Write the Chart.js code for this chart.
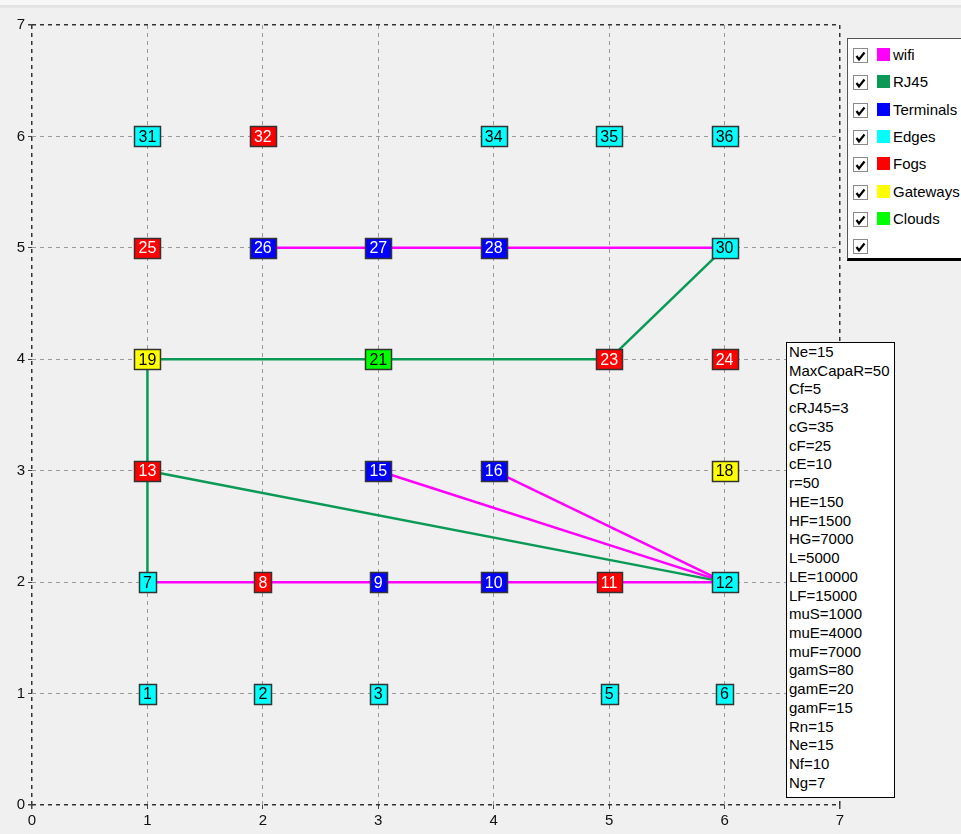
<!DOCTYPE html>
<html lang="en">
<head>
    <meta charset="UTF-8">
    <title>Network topology</title>
    <script src="https://cdn.jsdelivr.net/npm/chart.js"></script>
    <style>
        html, body { margin: 0; padding: 0; background: #f0f0f0; overflow: hidden; }
        #wrap { position: relative; width: 961px; height: 834px; }
        #topband { position: absolute; left: 0; top: 0; width: 961px; height: 5px; background: #f7f7f7; border-bottom: 3px solid #e4e4e4; }
        canvas { position: absolute; left: 0; top: 0; }
        #legend {
            position: absolute; left: 847px; top: 38px; width: 130px; height: 219px;
            background: #fff; border: 1px solid #555; border-bottom: 3px solid #000;
            font: 15px "Liberation Sans", Arial, sans-serif; color: #000;
        }
        .row { position: absolute; left: 0; height: 20px; }
        .chk { position: absolute; left: 5px; top: 3px; width: 13px; height: 13px; border: 1px solid #8a8a8a; background: #fff; }
        .sw { position: absolute; left: 29px; top: 3px; width: 13px; height: 13px; }
        .lbl { position: absolute; left: 45px; top: 1px; white-space: nowrap; }
        #params {
            position: absolute; left: 786px; top: 342px; width: 105px; height: 454px;
            background: #fff; border: 1px solid #000;
            font: 15px "Liberation Sans", Arial, sans-serif; line-height: 18.74px; color: #000;
            padding-left: 2px; white-space: nowrap; overflow: hidden;
        }
    </style>
</head>
<body>
<div id="wrap">
    <div id="topband"></div>
    <canvas id="net" width="961" height="834"></canvas>
    <div id="legend"></div>
    <div id="params"></div>
</div>
<script>
    // nodes (label, grid position, kind)
    const nodeLabels = ['1', '2', '3', '5', '6',
        '7', '8', '9', '10', '11', '12',
        '13', '15', '16', '18',
        '19', '21', '23', '24',
        '25', '26', '27', '28', '30',
        '31', '32', '34', '35', '36'];
    const nodeX = [1, 2, 3, 5, 6,
        1, 2, 3, 4, 5, 6,
        1, 3, 4, 6,
        1, 3, 5, 6,
        1, 2, 3, 4, 6,
        1, 2, 4, 5, 6];
    const nodeY = [1, 1, 1, 1, 1,
        2, 2, 2, 2, 2, 2,
        3, 3, 3, 3,
        4, 4, 4, 4,
        5, 5, 5, 5, 5,
        6, 6, 6, 6, 6];
    const nodeKind = ['Edges', 'Edges', 'Edges', 'Edges', 'Edges',
        'Edges', 'Fogs', 'Terminals', 'Terminals', 'Fogs', 'Edges',
        'Fogs', 'Terminals', 'Terminals', 'Gateways',
        'Gateways', 'Clouds', 'Fogs', 'Fogs',
        'Fogs', 'Terminals', 'Terminals', 'Terminals', 'Edges',
        'Edges', 'Fogs', 'Edges', 'Edges', 'Edges'];

    // links between nodes
    const wifiLinks = [['26', '27'], ['27', '28'], ['28', '30'],
        ['7', '8'], ['8', '9'], ['9', '10'], ['10', '11'], ['11', '12'],
        ['15', '12'], ['16', '12']];
    const rj45Links = [['19', '21'], ['21', '23'], ['23', '30'],
        ['19', '13'], ['13', '7'], ['13', '12']];

    const kinds = ['Terminals', 'Edges', 'Fogs', 'Gateways', 'Clouds'];
    const kindColors = ['#0000ff', '#00ffff', '#ff0000', '#ffff00', '#00ff00'];
    const kindText = ['#fff', '#000', '#fff', '#000', '#000'];
    const wifiColor = '#ff00ff';
    const rj45Color = '#0a9a55';

    const legendNames = ['wifi', 'RJ45', 'Terminals', 'Edges', 'Fogs', 'Gateways', 'Clouds', ''];
    const legendColors = [wifiColor, rj45Color].concat(kindColors, [null]);

    const params = ['Ne=15', 'MaxCapaR=50', 'Cf=5', 'cRJ45=3', 'cG=35', 'cF=25', 'cE=10', 'r=50',
        'HE=150', 'HF=1500', 'HG=7000', 'L=5000', 'LE=10000', 'LF=15000',
        'muS=1000', 'muE=4000', 'muF=7000', 'gamS=80', 'gamE=20', 'gamF=15',
        'Rn=15', 'Ne=15', 'Nf=10', 'Ng=7'];

    const xTicks = [0, 1, 2, 3, 4, 5, 6, 7];
    const yTicks = [0, 1, 2, 3, 4, 5, 6, 7];

    function pos(label) {
        const i = nodeLabels.indexOf(label);
        return {x: nodeX[i], y: nodeY[i]};
    }

    const datasets = [];
    rj45Links.forEach(l => datasets.push({
        data: [pos(l[0]), pos(l[1])], showLine: true, borderColor: rj45Color,
        borderWidth: 2.5, pointRadius: 0
    }));
    wifiLinks.forEach(l => datasets.push({
        data: [pos(l[0]), pos(l[1])], showLine: true, borderColor: wifiColor,
        borderWidth: 2.5, pointRadius: 0
    }));
    kinds.forEach((k, ki) => {
        const idx = nodeLabels.map((_, i) => i).filter(i => nodeKind[i] === k);
        datasets.push({
            data: idx.map(i => ({x: nodeX[i], y: nodeY[i]})),
            nodeLabels: idx.map(i => nodeLabels[i]),
            boxColor: kindColors[ki], textColor: kindText[ki],
            pointRadius: 0, showLine: false
        });
    });

    // draws the labelled squares on top of the links
    const nodeBoxes = {
        id: 'nodeBoxes',
        afterDatasetsDraw(chart) {
            const ctx = chart.ctx;
            ctx.save();
            ctx.font = '16px "Liberation Sans", Arial, sans-serif';
            ctx.textAlign = 'center';
            ctx.textBaseline = 'middle';
            chart.data.datasets.forEach((ds, i) => {
                if (!ds.nodeLabels) return;
                chart.getDatasetMeta(i).data.forEach((pt, j) => {
                    const t = ds.nodeLabels[j];
                    const w = Math.round(ctx.measureText(t).width) + 8;
                    const h = 20;
                    const x = Math.round(pt.x - w / 2) + 0.5, y = Math.round(pt.y - h / 2) + 0.5;
                    ctx.fillStyle = ds.boxColor;
                    ctx.fillRect(x, y, w, h);
                    ctx.lineWidth = 1.5;
                    ctx.strokeStyle = '#333';
                    ctx.strokeRect(x, y, w, h);
                    ctx.fillStyle = ds.textColor;
                    ctx.fillText(t, pt.x, pt.y + 1);
                });
            });
            ctx.restore();
        }
    };

    const gridColor = c => (c.tick && (c.tick.value === 0 || c.tick.value === 7)) ? '#333' : '#9a9a9a';
    const gridWidth = c => (c.tick && (c.tick.value === 0 || c.tick.value === 7)) ? 1.5 : 1;

    function axis(ticksList, fit) {
        return {
            type: 'linear', min: 0, max: 7,
            afterBuildTicks: s => { s.ticks = ticksList.map(v => ({value: v})); },
            ticks: {color: '#111', padding: 3, font: {size: 15, family: 'Liberation Sans'}},
            grid: {color: gridColor, lineWidth: gridWidth, tickLength: 4, tickColor: '#444', tickBorderDash: []},
            border: {display: false, dash: [4, 4]},
            afterFit: fit
        };
    }

    new Chart(document.getElementById('net'), {
        type: 'scatter',
        data: {datasets: datasets},
        options: {
            responsive: false,
            animation: false,
            layout: {padding: {top: 25, right: 121, left: 0, bottom: 0}},
            plugins: {legend: {display: false}, tooltip: {enabled: false}},
            scales: {
                x: axis(xTicks, s => { s.height = 29; }),
                y: axis(yTicks, s => { s.width = 32; })
            }
        },
        plugins: [nodeBoxes]
    });

    // legend with check boxes
    const legend = document.getElementById('legend');
    legendNames.forEach((name, i) => {
        const row = document.createElement('div');
        row.className = 'row';
        row.style.top = (6 + i * 27.3) + 'px';
        let html = '<span class="chk"><svg width="13" height="13"><polyline points="2.5,6 5,9.5 10.5,2.5" fill="none" stroke="#000" stroke-width="2.2"/></svg></span>';
        if (legendColors[i]) html += '<span class="sw" style="background:' + legendColors[i] + '"></span>';
        html += '<span class="lbl">' + name + '</span>';
        row.innerHTML = html;
        legend.appendChild(row);
    });

    document.getElementById('params').innerHTML = params.join('<br>');
</script>
</body>
</html>
